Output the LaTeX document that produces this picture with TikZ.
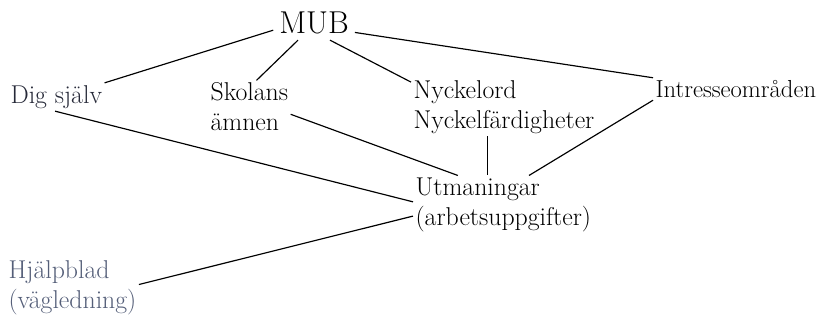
\documentclass[tikz,border=0pt]{standalone}
\usepackage{tikz}

\definecolor{inkgray}{rgb}{0.15,0.16,0.22}
\definecolor{pencilblue}{rgb}{0.33,0.37,0.47}

\begin{document}
\begin{tikzpicture}[x=0.03cm, y=-0.03cm,
	word/.style={font=\fontsize{22}{25.5}\selectfont, inner sep=2pt, align=left, anchor=west},
	link/.style={line width=1pt}]
	\useasboundingbox (0,0) rectangle (820,323);
	\node[word, font=\fontsize{27}{30}\selectfont, anchor=center, inner sep=5pt] (mub) at (314,23) {MUB};
	\node[word, text=inkgray] (dig) at (8,97) {Dig själv};
	\node[word] (skolans) at (208,107) {Skolans\\ämnen};
	\node[word] (nyckel) at (411,107) {Nyckelord\\Nyckelfärdigheter};
	\node[word, font=\fontsize{21}{25.5}\selectfont] (intresse) at (653,89) {Intresseområden};
	\node[word] (utm) at (413,205) {Utmaningar\\(arbetsuppgifter)};
	\node[word, text=pencilblue] (hjalp) at (6,288) {Hjälpblad\\(vägledning)};
	\draw[link] (mub.190) -- (dig.north east);
	\draw[link] (mub.227) -- (skolans.75);
	\draw[link] (mub.313) -- (nyckel.165);
	\draw[link] (mub.347) -- (intresse.north west);
	\draw[link] (dig.265) -- (utm.178);
	\draw[link] (skolans.350) -- (utm.147);
	\draw[link] (nyckel.240) -- (nyckel.240 |- utm.north);
	\draw[link] (intresse.south west) -- (utm.49);
	\draw[link] (hjalp.3) -- (utm.187);
\end{tikzpicture}
\end{document}
